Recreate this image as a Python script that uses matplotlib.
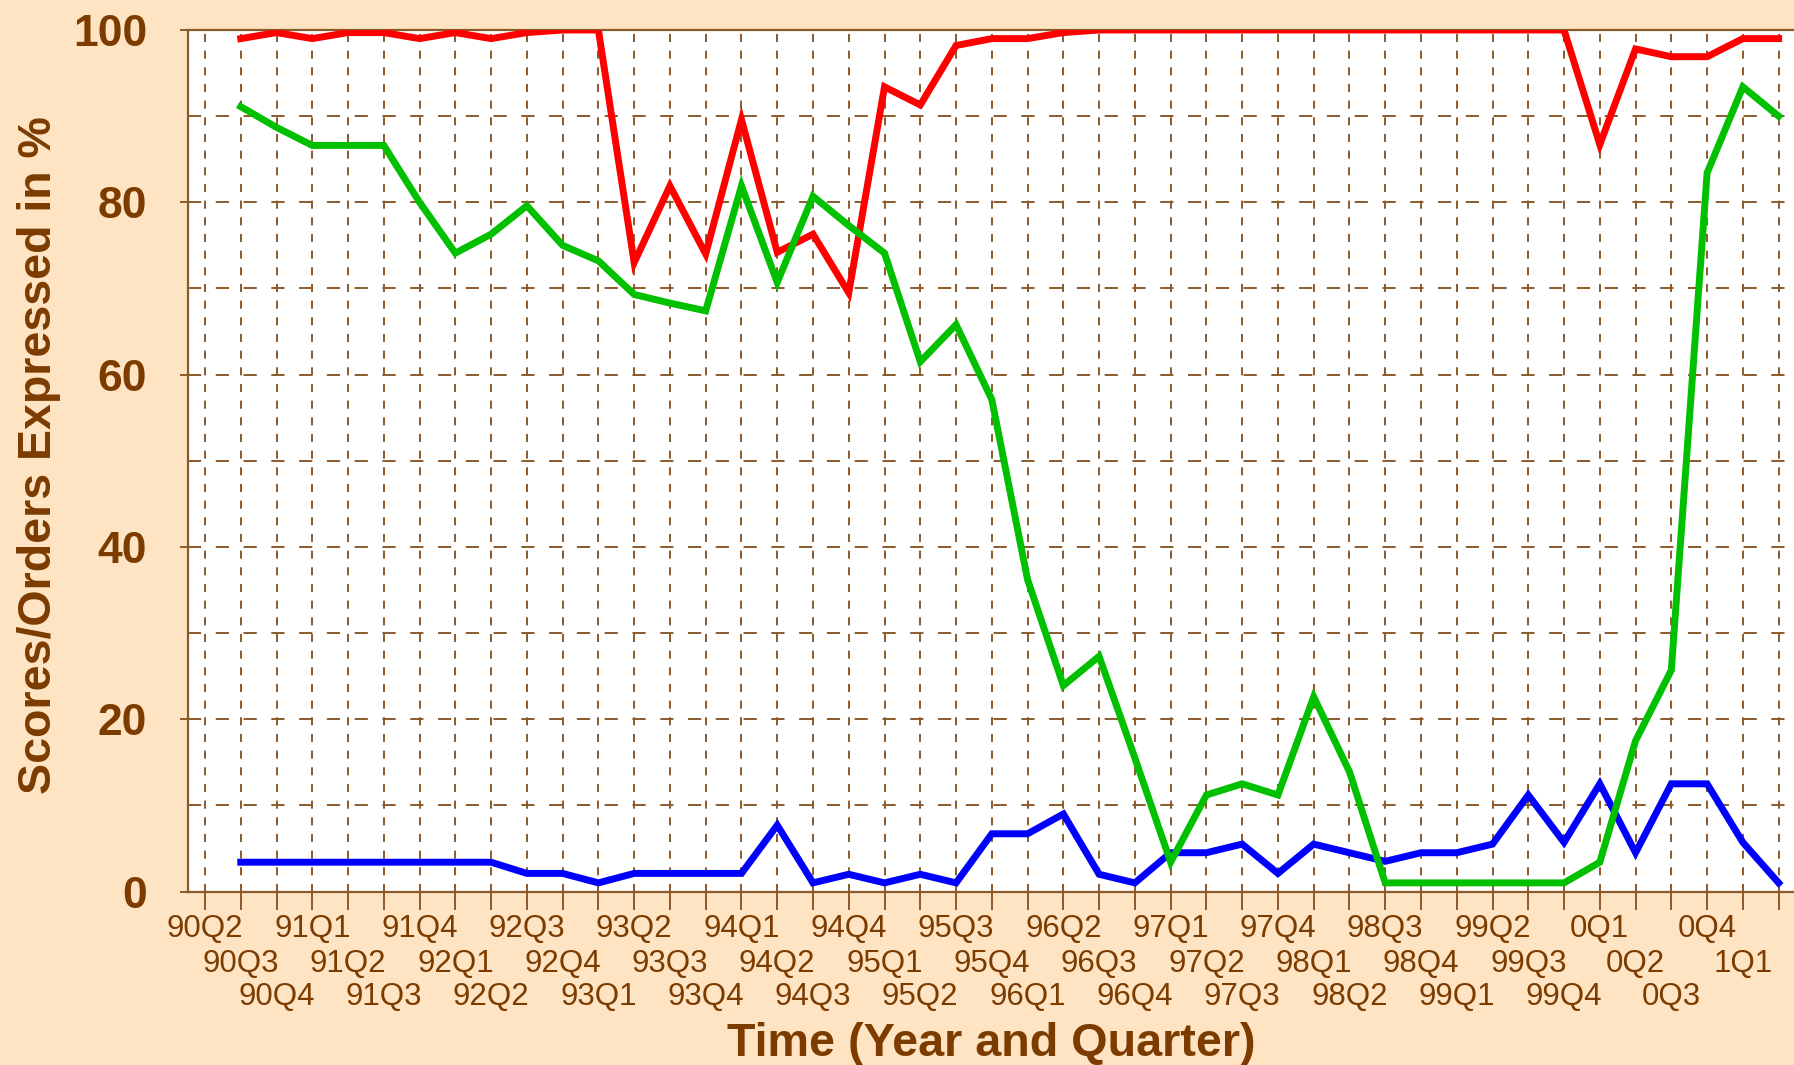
import matplotlib
matplotlib.use("Agg")
from matplotlib import pyplot as plt
import numpy as np

plt.rcParams['font.family'] = ['Liberation Sans', 'DejaVu Sans']
plt.rcParams['lines.scale_dashes'] = False

# quarter labels (90Q2 .. 1Q1), one extra unlabeled tick at the right end
quarters = ["90Q2", "90Q3", "90Q4",
            "91Q1", "91Q2", "91Q3", "91Q4",
            "92Q1", "92Q2", "92Q3", "92Q4",
            "93Q1", "93Q2", "93Q3", "93Q4",
            "94Q1", "94Q2", "94Q3", "94Q4",
            "95Q1", "95Q2", "95Q3", "95Q4",
            "96Q1", "96Q2", "96Q3", "96Q4",
            "97Q1", "97Q2", "97Q3", "97Q4",
            "98Q1", "98Q2", "98Q3", "98Q4",
            "99Q1", "99Q2", "99Q3", "99Q4",
            "0Q1", "0Q2", "0Q3", "0Q4",
            "1Q1"]

# series values from 90Q3 to 1Q2
red_scores = [99.0, 99.7, 99.0, 99.7, 99.7, 99.0, 99.7, 99.0, 99.7, 100,
              100, 73.0, 81.9, 74.0, 89.6, 74.2, 76.3, 69.5, 93.4, 91.3,
              98.2, 99.0, 99.0, 99.7, 100, 100, 100, 100, 100, 100,
              100, 100, 100, 100, 100, 100, 100, 100, 86.7, 97.8,
              96.9, 96.9, 99.0, 99.0]
green_scores = [91.1, 88.7, 86.6, 86.6, 86.6, 80.0, 74.1, 76.3, 79.6, 75.0,
                73.2, 69.3, 68.3, 67.4, 81.9, 70.7, 80.7, 77.3, 74.1, 61.5,
                65.8, 57.1, 36.2, 23.9, 27.3, 15.5, 3.4, 11.2, 12.5, 11.2,
                22.6, 13.9, 1.0, 1.0, 1.0, 1.0, 1.0, 1.0, 3.4, 17.5,
                25.7, 83.4, 93.4, 90.0]
blue_scores = [3.4, 3.4, 3.4, 3.4, 3.4, 3.4, 3.4, 3.4, 2.1, 2.1,
               1.0, 2.1, 2.1, 2.1, 2.1, 7.7, 1.0, 2.0, 1.0, 2.0,
               1.0, 6.7, 6.7, 9.0, 2.0, 1.0, 4.5, 4.5, 5.5, 2.1,
               5.5, 4.5, 3.5, 4.5, 4.5, 5.5, 11.2, 5.7, 12.5, 4.5,
               12.5, 12.5, 5.7, 1.0]

bg = '#ffe4c4'
txt = '#7c3c00'
gridc = '#8b5a2b'

fig = plt.figure(figsize=(17.94, 10.65), dpi=100, facecolor=bg)
ax = fig.add_axes([188.3 / 1794, 1 - 891.5 / 1065, 1 - 188.3 / 1794, (891.5 - 30) / 1065])
ax.set_facecolor('white')

x = np.arange(1, len(red_scores) + 1)
ax.plot(x, blue_scores, color='#0000ff', lw=5, zorder=3, solid_joinstyle='miter')
ax.plot(x, red_scores, color='#ff0000', lw=5, zorder=4, solid_joinstyle='miter')
ax.plot(x, green_scores, color='#00c000', lw=5, zorder=5, solid_joinstyle='miter')

ax.set_xlim(-0.467, 44.43)
ax.set_ylim(0, 100)

ax.set_xticks(np.arange(len(quarters) + 1))
ax.set_xticklabels([])
ax.set_yticks(np.arange(0, 101, 20))
ax.set_yticks(np.arange(10, 100, 20), minor=True)

ax.tick_params(axis='x', length=13, width=1.4, color=gridc, direction='out')
ax.tick_params(axis='y', which='major', length=6, width=1.4, color=gridc,
               pad=23.7, labelsize=32, labelcolor=txt)
ax.tick_params(axis='y', which='minor', length=0)
for lbl in ax.get_yticklabels():
    lbl.set_fontweight('bold')

ax.xaxis.grid(True, color=gridc, linestyle=(0, (5.8, 6.2)), linewidth=1.4)
ax.yaxis.grid(True, which='both', color=gridc, linestyle=(0, (9.5, 10.5)), linewidth=1.4)
ax.set_axisbelow(True)

for side in ['left', 'bottom', 'top']:
    ax.spines[side].set_color(gridc)
    ax.spines[side].set_linewidth(1.6)
ax.spines['right'].set_visible(False)

# staggered quarter labels in three rows
row_offsets = [45.2, 80.2, 113.5]
for i, q in enumerate(quarters):
    ax.annotate(q, xy=(i, 0), xycoords=('data', 'axes fraction'),
                xytext=(0, -row_offsets[i % 3]), textcoords='offset pixels',
                ha='center', va='baseline', fontsize=22.5, color=txt,
                annotation_clip=False)

fig.text(991 / 1794, 1 - 1056 / 1065, 'Time (Year and Quarter)', ha='center',
         va='baseline', fontsize=33.7, fontweight='bold', color=txt)
fig.text(51 / 1794, 1 - 455 / 1065, 'Scores/Orders Expressed in %', rotation=90,
         rotation_mode='anchor', ha='center', va='baseline', fontsize=33.5,
         fontweight='bold', color=txt)

fig.savefig('out.png', dpi=100, facecolor=bg)
